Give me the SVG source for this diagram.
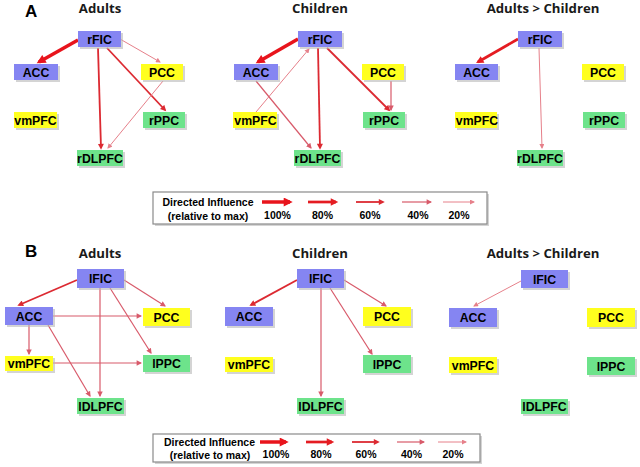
<svg xmlns="http://www.w3.org/2000/svg" width="640" height="467" viewBox="0 0 640 467">
<defs>
<style>
.bg{fill:#ffffff}
.sh{fill:#b8b8b8;opacity:0.6}
.blue{fill:#8585f2}
.yel{fill:#ffff1e}
.grn{fill:#6de38b}
.lbl{font-family:"Liberation Sans",Arial,sans-serif;font-weight:bold;font-size:12.3px;fill:#000;text-anchor:middle}
.ttl{font-family:"Open Sans","Liberation Sans",sans-serif;font-weight:bold;font-size:13.2px;fill:#1a1a1a;text-anchor:middle}
.pl{font-family:"Liberation Sans",Arial,sans-serif;font-weight:bold;font-size:17px;fill:#000}
.lg{font-family:"Liberation Sans",Arial,sans-serif;font-weight:bold;font-size:10.5px;fill:#000;text-anchor:middle}
.lgbox{fill:#fff;stroke:#8a8a8a;stroke-width:1.2}
.e{fill:none}
.s100{stroke:#e8141c;stroke-width:3.5}
.s80{stroke:#e41c22;stroke-width:2.7}
.s60{stroke:#dc2a32;stroke-width:1.8}
.s40{stroke:#d85a6a;stroke-width:1.2}
.s20{stroke:#e6808a;stroke-width:1}
</style>
<marker id="m100" viewBox="0 0 10 10" refX="7" refY="5" markerUnits="userSpaceOnUse" markerWidth="10" markerHeight="9" orient="auto"><path d="M0,0 L10,5 L0,10 z" fill="#e8141c"/></marker>
<marker id="m80" viewBox="0 0 10 10" refX="7" refY="5" markerUnits="userSpaceOnUse" markerWidth="8.5" markerHeight="7.5" orient="auto"><path d="M0,0 L10,5 L0,10 z" fill="#e41c22"/></marker>
<marker id="m60" viewBox="0 0 10 10" refX="7" refY="5" markerUnits="userSpaceOnUse" markerWidth="7" markerHeight="6" orient="auto"><path d="M0,0 L10,5 L0,10 z" fill="#dc2a32"/></marker>
<marker id="m40" viewBox="0 0 10 10" refX="8" refY="5" markerUnits="userSpaceOnUse" markerWidth="6" markerHeight="5.5" orient="auto"><path d="M0,0 L10,5 L0,10 z" fill="#d85a6a"/></marker>
<marker id="m20" viewBox="0 0 10 10" refX="8" refY="5" markerUnits="userSpaceOnUse" markerWidth="5.5" markerHeight="5" orient="auto"><path d="M0,0 L10,5 L0,10 z" fill="#e6808a"/></marker>
</defs>
<rect class="bg" x="0" y="0" width="640" height="467"/>

<g id="labels">
<text class="pl" x="25" y="17">A</text>
<text class="pl" x="25" y="257">B</text>
<text class="ttl" x="100" y="13">Adults</text>
<text class="ttl" x="320" y="13">Children</text>
<text class="ttl" x="543" y="13">Adults &gt; Children</text>
<text class="ttl" x="100" y="258">Adults</text>
<text class="ttl" x="320" y="258">Children</text>
<text class="ttl" x="543" y="258">Adults &gt; Children</text>
</g>

<g id="connectors">
<!-- A adults -->
<line class="e s100" x1="78" y1="40" x2="39" y2="62" marker-end="url(#m100)"/>
<line class="e s20" x1="120" y1="39" x2="160" y2="62" marker-end="url(#m20)"/>
<line class="e s60" x1="98" y1="48" x2="101" y2="148" marker-end="url(#m60)"/>
<line class="e s60" x1="107" y1="48" x2="165" y2="110" marker-end="url(#m60)"/>
<line class="e s20" x1="163" y1="81" x2="108" y2="148" marker-end="url(#m20)"/>
<!-- A children -->
<line class="e s100" x1="298" y1="39" x2="258" y2="62" marker-end="url(#m100)"/>
<line class="e s20" x1="256" y1="112" x2="309" y2="49" marker-end="url(#m20)"/>
<line class="e s40" x1="256" y1="81" x2="311" y2="148" marker-end="url(#m40)"/>
<line class="e s60" x1="318" y1="48" x2="320" y2="148" marker-end="url(#m60)"/>
<line class="e s60" x1="327" y1="48" x2="389" y2="110" marker-end="url(#m60)"/>
<line class="e s40" x1="391" y1="81" x2="391" y2="110" marker-end="url(#m40)"/>
<!-- A adults > children -->
<line class="e s80" x1="518" y1="39" x2="478" y2="62" marker-end="url(#m80)"/>
<line class="e s20" x1="539" y1="48" x2="542" y2="148" marker-end="url(#m20)"/>
<!-- B adults -->
<line class="e s60" x1="77" y1="280" x2="19" y2="305" marker-end="url(#m60)"/>
<line class="e s40" x1="124" y1="280" x2="165" y2="306" marker-end="url(#m40)"/>
<line class="e s40" x1="100" y1="288" x2="100" y2="396" marker-end="url(#m40)"/>
<line class="e s40" x1="110" y1="288" x2="151" y2="353" marker-end="url(#m40)"/>
<line class="e s40" x1="53" y1="316" x2="141" y2="316" marker-end="url(#m40)"/>
<line class="e s40" x1="29" y1="325" x2="29" y2="354" marker-end="url(#m40)"/>
<line class="e s40" x1="48" y1="325" x2="90" y2="396" marker-end="url(#m40)"/>
<line class="e s40" x1="53" y1="363" x2="141" y2="363" marker-end="url(#m40)"/>
<!-- B children -->
<line class="e s60" x1="297" y1="280" x2="251" y2="305" marker-end="url(#m60)"/>
<line class="e s40" x1="344" y1="280" x2="386" y2="306" marker-end="url(#m40)"/>
<line class="e s40" x1="321" y1="288" x2="321" y2="396" marker-end="url(#m40)"/>
<line class="e s40" x1="330" y1="288" x2="372" y2="354" marker-end="url(#m40)"/>
<!-- B adults > children -->
<line class="e s20" x1="521" y1="281" x2="474" y2="306" marker-end="url(#m20)"/>
</g>

<!-- Panel A nodes -->
<g id="A-adults-rFIC"><rect class="sh" x="80" y="33" width="43" height="16"/><rect class="blue" x="78" y="31" width="43" height="16"/><text class="lbl" x="99.5" y="43.5">rFIC</text></g>
<g id="A-adults-ACC"><rect class="sh" x="16" y="66" width="44" height="16"/><rect class="blue" x="14" y="64" width="44" height="16"/><text class="lbl" x="36" y="76.5">ACC</text></g>
<g id="A-adults-PCC"><rect class="sh" x="143" y="66" width="42" height="16"/><rect class="yel" x="141" y="64" width="42" height="16"/><text class="lbl" x="162" y="76.5">PCC</text></g>
<g id="A-adults-vmPFC"><rect class="sh" x="16" y="114" width="43" height="16"/><rect class="yel" x="14" y="112" width="43" height="16"/><text class="lbl" x="35.5" y="124.5">vmPFC</text></g>
<g id="A-adults-rPPC"><rect class="sh" x="145" y="114" width="42" height="16"/><rect class="grn" x="143" y="112" width="42" height="16"/><text class="lbl" x="164" y="124.5">rPPC</text></g>
<g id="A-adults-rDLPFC"><rect class="sh" x="79" y="152" width="46" height="16"/><rect class="grn" x="77" y="150" width="46" height="16"/><text class="lbl" x="100" y="162.5">rDLPFC</text></g>

<g id="A-children-rFIC"><rect class="sh" x="300" y="33" width="44" height="16"/><rect class="blue" x="298" y="31" width="44" height="16"/><text class="lbl" x="320" y="43.5">rFIC</text></g>
<g id="A-children-ACC"><rect class="sh" x="236" y="66" width="44" height="16"/><rect class="blue" x="234" y="64" width="44" height="16"/><text class="lbl" x="256" y="76.5">ACC</text></g>
<g id="A-children-PCC"><rect class="sh" x="364" y="66" width="42" height="16"/><rect class="yel" x="362" y="64" width="42" height="16"/><text class="lbl" x="383" y="76.5">PCC</text></g>
<g id="A-children-vmPFC"><rect class="sh" x="235" y="114" width="44" height="16"/><rect class="yel" x="233" y="112" width="44" height="16"/><text class="lbl" x="255.5" y="124.5">vmPFC</text></g>
<g id="A-children-rPPC"><rect class="sh" x="365" y="114" width="42" height="16"/><rect class="grn" x="363" y="112" width="42" height="16"/><text class="lbl" x="384" y="124.5">rPPC</text></g>
<g id="A-children-rDLPFC"><rect class="sh" x="296" y="152" width="47" height="16"/><rect class="grn" x="294" y="150" width="47" height="16"/><text class="lbl" x="317.5" y="162.5">rDLPFC</text></g>

<g id="A-diff-rFIC"><rect class="sh" x="520" y="33" width="44" height="16"/><rect class="blue" x="518" y="31" width="44" height="16"/><text class="lbl" x="540" y="43.5">rFIC</text></g>
<g id="A-diff-ACC"><rect class="sh" x="457" y="66" width="43" height="16"/><rect class="blue" x="455" y="64" width="43" height="16"/><text class="lbl" x="476.5" y="76.5">ACC</text></g>
<g id="A-diff-PCC"><rect class="sh" x="584" y="66" width="42" height="16"/><rect class="yel" x="582" y="64" width="42" height="16"/><text class="lbl" x="603" y="76.5">PCC</text></g>
<g id="A-diff-vmPFC"><rect class="sh" x="457" y="114" width="42" height="16"/><rect class="yel" x="455" y="112" width="42" height="16"/><text class="lbl" x="477" y="124.5">vmPFC</text></g>
<g id="A-diff-rPPC"><rect class="sh" x="585" y="114" width="42" height="16"/><rect class="grn" x="583" y="112" width="42" height="16"/><text class="lbl" x="604" y="124.5">rPPC</text></g>
<g id="A-diff-rDLPFC"><rect class="sh" x="519" y="152" width="46" height="16"/><rect class="grn" x="517" y="150" width="46" height="16"/><text class="lbl" x="540" y="162.5">rDLPFC</text></g>

<!-- Panel B nodes -->
<g id="B-adults-lFIC"><rect class="sh" x="79" y="271" width="47" height="19"/><rect class="blue" x="77" y="269" width="47" height="19"/><text class="lbl" x="100.5" y="283">lFIC</text></g>
<g id="B-adults-ACC"><rect class="sh" x="7" y="309" width="48" height="18"/><rect class="blue" x="5" y="307" width="48" height="18"/><text class="lbl" x="29" y="320.5">ACC</text></g>
<g id="B-adults-PCC"><rect class="sh" x="145" y="310" width="47" height="18"/><rect class="yel" x="143" y="308" width="47" height="18"/><text class="lbl" x="166.5" y="321.5">PCC</text></g>
<g id="B-adults-vmPFC"><rect class="sh" x="7" y="358" width="48" height="15"/><rect class="yel" x="5" y="356" width="48" height="15"/><text class="lbl" x="29" y="368">vmPFC</text></g>
<g id="B-adults-lPPC"><rect class="sh" x="145" y="357" width="47" height="17"/><rect class="grn" x="143" y="355" width="47" height="17"/><text class="lbl" x="166.5" y="368">lPPC</text></g>
<g id="B-adults-lDLPFC"><rect class="sh" x="79" y="400" width="47" height="16"/><rect class="grn" x="77" y="398" width="47" height="16"/><text class="lbl" x="100.5" y="410.5">lDLPFC</text></g>

<g id="B-children-lFIC"><rect class="sh" x="299" y="271" width="47" height="19"/><rect class="blue" x="297" y="269" width="47" height="19"/><text class="lbl" x="320.5" y="283">lFIC</text></g>
<g id="B-children-ACC"><rect class="sh" x="227" y="309" width="48" height="19"/><rect class="blue" x="225" y="307" width="48" height="19"/><text class="lbl" x="249" y="321">ACC</text></g>
<g id="B-children-PCC"><rect class="sh" x="365" y="309" width="48" height="19"/><rect class="yel" x="363" y="307" width="48" height="19"/><text class="lbl" x="387" y="321">PCC</text></g>
<g id="B-children-vmPFC"><rect class="sh" x="227" y="359" width="48" height="15"/><rect class="yel" x="225" y="357" width="48" height="15"/><text class="lbl" x="249" y="369">vmPFC</text></g>
<g id="B-children-lPPC"><rect class="sh" x="365" y="357" width="48" height="18"/><rect class="grn" x="363" y="355" width="48" height="18"/><text class="lbl" x="387" y="368.5">lPPC</text></g>
<g id="B-children-lDLPFC"><rect class="sh" x="299" y="400" width="47" height="16"/><rect class="grn" x="297" y="398" width="47" height="16"/><text class="lbl" x="320.5" y="410.5">lDLPFC</text></g>

<g id="B-diff-lFIC"><rect class="sh" x="523" y="272" width="47" height="18"/><rect class="blue" x="521" y="270" width="47" height="18"/><text class="lbl" x="544.5" y="283.5">lFIC</text></g>
<g id="B-diff-ACC"><rect class="sh" x="451" y="310" width="48" height="19"/><rect class="blue" x="449" y="308" width="48" height="19"/><text class="lbl" x="473" y="322">ACC</text></g>
<g id="B-diff-PCC"><rect class="sh" x="589" y="310" width="48" height="19"/><rect class="yel" x="587" y="308" width="48" height="19"/><text class="lbl" x="611" y="322">PCC</text></g>
<g id="B-diff-vmPFC"><rect class="sh" x="451" y="359" width="48" height="16"/><rect class="yel" x="449" y="357" width="48" height="16"/><text class="lbl" x="473" y="369.5">vmPFC</text></g>
<g id="B-diff-lPPC"><rect class="sh" x="589" y="359" width="48" height="18"/><rect class="grn" x="587" y="357" width="48" height="18"/><text class="lbl" x="611" y="370.5">lPPC</text></g>
<g id="B-diff-lDLPFC"><rect class="sh" x="523" y="401" width="47" height="15"/><rect class="grn" x="521" y="399" width="47" height="15"/><text class="lbl" x="544.5" y="411">lDLPFC</text></g>

<!-- Legend A -->
<g id="legend-A">
<rect class="sh" x="155" y="194" width="334" height="32"/>
<rect class="lgbox" x="153" y="192" width="334" height="32"/>
<text class="lg" x="208" y="206">Directed Influence</text>
<text class="lg" x="208" y="220">(relative to max)</text>
<line class="e s100" x1="262" y1="202" x2="290" y2="202" marker-end="url(#m100)"/>
<line class="e s80" x1="308" y1="202" x2="336" y2="202" marker-end="url(#m80)"/>
<line class="e s60" x1="356" y1="202" x2="383" y2="202" marker-end="url(#m60)"/>
<line class="e s40" x1="402" y1="202" x2="431" y2="202" marker-end="url(#m40)"/>
<line class="e s20" x1="443" y1="202" x2="474" y2="202" marker-end="url(#m20)"/>
<text class="lg" x="277.5" y="219">100%</text>
<text class="lg" x="322.5" y="219">80%</text>
<text class="lg" x="370" y="219">60%</text>
<text class="lg" x="418" y="219">40%</text>
<text class="lg" x="459" y="219">20%</text>
</g>

<!-- Legend B -->
<g id="legend-B">
<rect class="sh" x="155" y="436" width="327" height="28"/>
<rect class="lgbox" x="153" y="434" width="327" height="28"/>
<text class="lg" x="209.5" y="446">Directed Influence</text>
<text class="lg" x="210" y="459">(relative to max)</text>
<line class="e s100" x1="260" y1="442" x2="286" y2="442" marker-end="url(#m100)"/>
<line class="e s80" x1="306" y1="442" x2="332" y2="442" marker-end="url(#m80)"/>
<line class="e s60" x1="352" y1="442" x2="378" y2="442" marker-end="url(#m60)"/>
<line class="e s40" x1="397" y1="442" x2="424" y2="442" marker-end="url(#m40)"/>
<line class="e s20" x1="438" y1="442" x2="466" y2="442" marker-end="url(#m20)"/>
<text class="lg" x="276" y="458">100%</text>
<text class="lg" x="321" y="458">80%</text>
<text class="lg" x="366" y="458">60%</text>
<text class="lg" x="411.5" y="458">40%</text>
<text class="lg" x="453" y="458">20%</text>
</g>
</svg>
